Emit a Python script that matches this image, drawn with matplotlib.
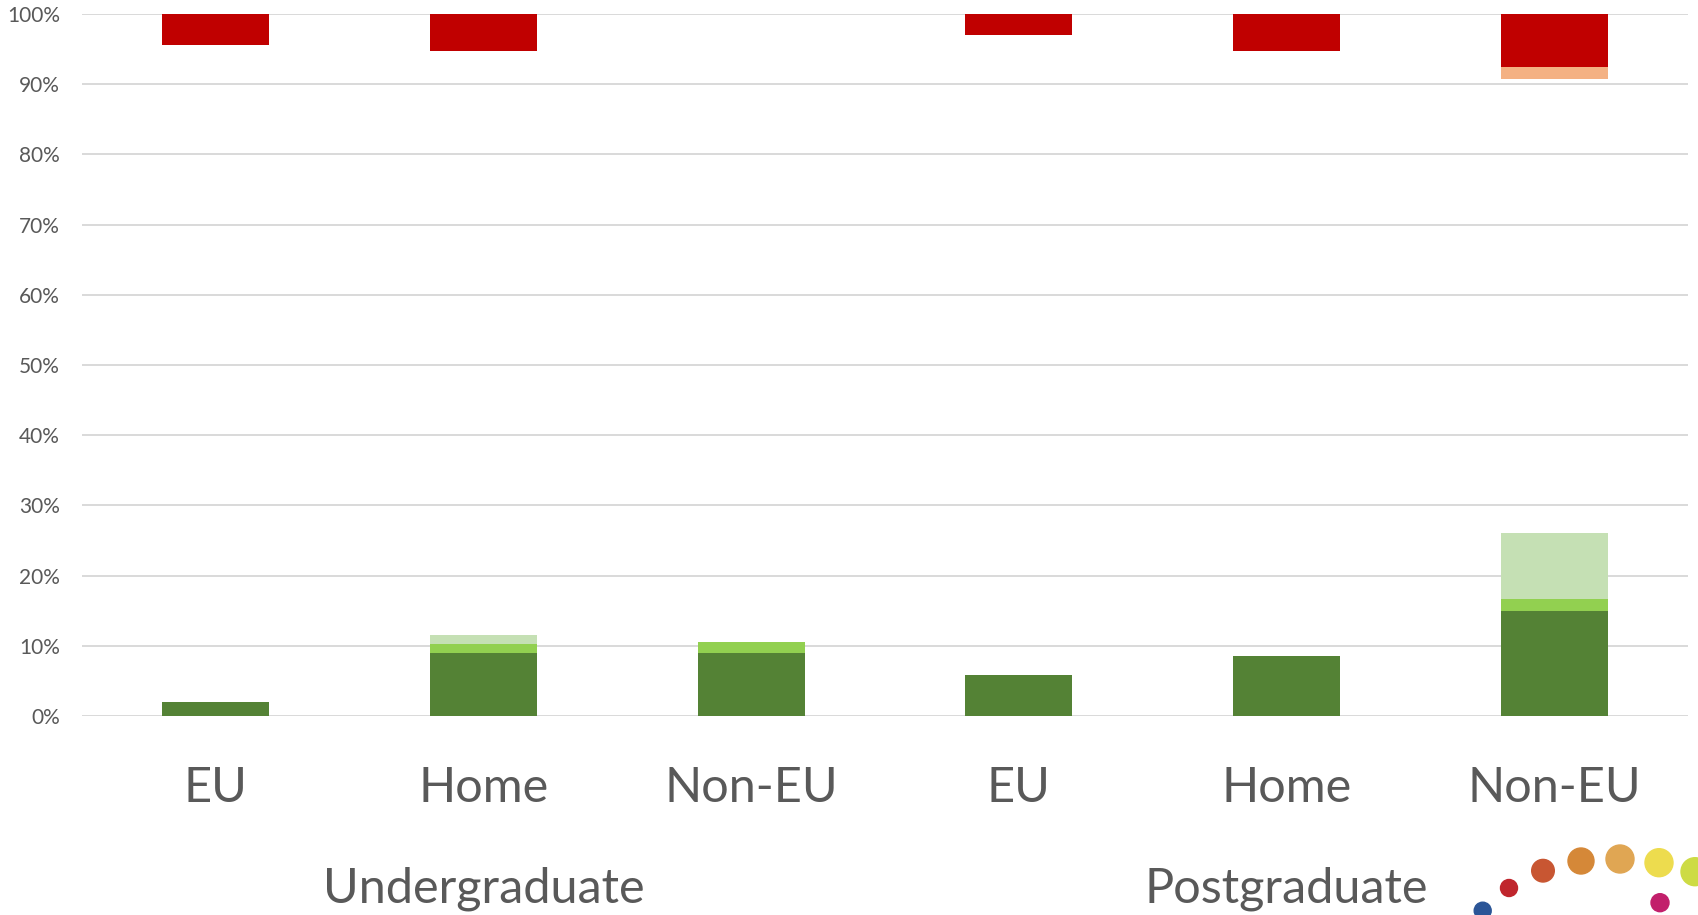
import matplotlib.pyplot as plt
from matplotlib.patches import Circle
import numpy as np

# categories
groups = ['Undergraduate', 'Postgraduate']
regions = ['EU', 'Home', 'Non-EU', 'EU', 'Home', 'Non-EU']

# stacked from 0% upward (percent)
strong_pos = [2.0, 9.0, 9.0, 5.9, 8.6, 14.9]
pos = [0.0, 1.2, 1.6, 0.0, 0.0, 1.8]
mild_pos = [0.0, 1.3, 0.0, 0.0, 0.0, 9.3]

# stacked from 100% downward (percent)
strong_neg = [4.4, 5.2, 0.0, 3.0, 5.3, 7.5]
mild_neg = [0.0, 0.0, 0.0, 0.0, 0.0, 1.8]

# logo dots: x, y (pixels from top-left), radius, colour
logo_x = [1482.7, 1509, 1543, 1581, 1620, 1659, 1695, 1660]
logo_y = [910.7, 888, 870.7, 861, 859, 862.7, 871.7, 902.7]
logo_r = [8.5, 8.5, 11.3, 13, 14, 14, 14, 9]
logo_c = ['#2B5597', '#C0262D', '#C85632', '#D58838', '#E0A653', '#EDDC4E', '#CDDB44', '#C21F6B']

W, H = 1698, 915
plt.rcParams['font.family'] = ['Lato', 'DejaVu Sans']
txt_col = '#595959'

fig = plt.figure(figsize=(W / 100, H / 100), dpi=100)
ax = fig.add_axes([82 / W, 1 - 716 / H, (1688 - 82) / W, (716 - 14) / H])

x = np.arange(len(regions))
bw = 0.4
sp = np.array(strong_pos)
p = np.array(pos)
mp = np.array(mild_pos)
sn = np.array(strong_neg)
mn = np.array(mild_neg)

ax.bar(x, sp, bw, color='#548235', zorder=3)
ax.bar(x, p, bw, bottom=sp, color='#92D050', zorder=3)
ax.bar(x, mp, bw, bottom=sp + p, color='#C5E0B4', zorder=3)
ax.bar(x, sn, bw, bottom=100 - sn, color='#C00000', zorder=3)
ax.bar(x, mn, bw, bottom=100 - sn - mn, color='#F4B183', zorder=3)

ax.set_xlim(-0.5, len(regions) - 0.5)
ax.set_ylim(0, 100)
ax.set_yticks(range(0, 101, 10))
ax.set_yticklabels([f'{v}%' for v in range(0, 101, 10)], fontsize=15, color=txt_col)
ax.tick_params(axis='y', length=0, pad=16)
ax.set_xticks([])
ax.grid(axis='y', color='#D9D9D9', linewidth=1.4, zorder=0)
for s in ax.spines.values():
    s.set_visible(False)

trans = ax.get_xaxis_transform()
for i, r in enumerate(regions):
    ax.text(i, -0.123, r, transform=trans, ha='center', va='baseline',
            fontsize=35, color=txt_col)
for g, name in enumerate(groups):
    ax.text(g * 3 + 1, -0.266, name, transform=trans, ha='center', va='baseline',
            fontsize=35, color=txt_col)

# logo overlay in pixel coordinates
lax = fig.add_axes([0, 0, 1, 1], zorder=5)
lax.set_xlim(0, W)
lax.set_ylim(H, 0)
lax.axis('off')
for cx, cy, r, c in zip(logo_x, logo_y, logo_r, logo_c):
    lax.add_patch(Circle((cx, cy), r, color=c))

fig.savefig('out.png', dpi=100)
